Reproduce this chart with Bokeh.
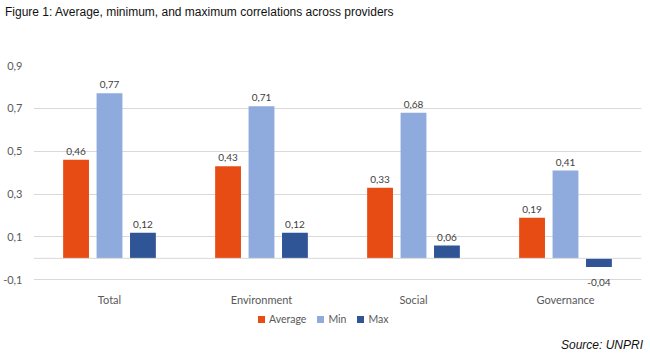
from bokeh.plotting import figure
from bokeh.models import (ColumnDataSource, FixedTicker, CustomJSTickFormatter, Span,
                          Range1d, FactorRange, Div)
from bokeh.layouts import column
from bokeh.transform import dodge
from bokeh.core.properties import value
from bokeh.embed import file_html
from bokeh.resources import INLINE

categories = ["Total", "Environment", "Social", "Governance"]
average = [0.46, 0.43, 0.33, 0.19]
minimum = [0.77, 0.71, 0.68, 0.41]
maximum = [0.12, 0.12, 0.06, -0.04]
series_names = ["Average", "Min", "Max"]
colors = ["#E84C15", "#8FAADC", "#2F5597"]
y_ticks = [-0.1, 0.1, 0.3, 0.5, 0.7, 0.9]

FONT = "Lato"
W = 650
TITLE_H, FIG_H, LEG_H, SRC_H = 25, 285, 20, 25
LEFT, RIGHT, TOP, BOTTOM = 30, 9, 40, 20

p = figure(width=W, height=FIG_H, output_backend="svg", toolbar_location=None,
           x_range=FactorRange(*categories, range_padding=0), y_range=Range1d(-0.15, 0.9),
           min_border_left=LEFT, min_border_right=RIGHT, min_border_top=TOP, min_border_bottom=BOTTOM)
p.outline_line_color = None
p.background_fill_color = "white"
p.border_fill_color = "white"
p.xgrid.grid_line_color = None
p.ygrid.grid_line_color = "#D9D9D9"
p.ygrid.grid_line_width = 1

p.yaxis.ticker = FixedTicker(ticks=y_ticks)
p.yaxis.formatter = CustomJSTickFormatter(code="return tick.toFixed(1).replace('.', ',');")
p.yaxis.axis_line_color = None
p.yaxis.major_tick_line_color = None
p.yaxis.minor_tick_line_color = None
p.yaxis.major_label_text_font = FONT
p.yaxis.major_label_text_font_size = "11px"
p.yaxis.major_label_text_color = "#595959"
p.yaxis.major_label_standoff = 5

p.xaxis.axis_line_color = None
p.xaxis.major_tick_line_color = None
p.xaxis.major_label_text_font = FONT
p.xaxis.major_label_text_font_size = "11px"
p.xaxis.major_label_text_color = "#595959"
p.xaxis.major_label_standoff = -4

p.add_layout(Span(location=0, dimension="width", line_color="#D9D9D9", line_width=1))

offsets = [-0.22, 0.0, 0.22]
series = [average, minimum, maximum]
for name, vals, col, off in zip(series_names, series, colors, offsets):
    labels = [f"{v:.2f}".replace(".", ",") for v in vals]
    src = ColumnDataSource(dict(cat=categories, val=vals))
    p.vbar(x=dodge("cat", off, range=p.x_range), top="val", bottom=0, width=0.17,
           source=src, fill_color=col, line_color=None)
    pos = ColumnDataSource(dict(cat=[c for c, v in zip(categories, vals) if v >= 0],
                                val=[v for v in vals if v >= 0],
                                lab=[l for l, v in zip(labels, vals) if v >= 0]))
    neg = ColumnDataSource(dict(cat=[c for c, v in zip(categories, vals) if v < 0],
                                val=[v for v in vals if v < 0],
                                lab=[l for l, v in zip(labels, vals) if v < 0]))
    p.text(x=dodge("cat", off, range=p.x_range), y="val", text="lab", source=pos,
           text_font=value(FONT), text_font_size="10px", text_color="#404040",
           text_align="center", text_baseline="bottom", y_offset=-5)
    p.text(x=dodge("cat", off, range=p.x_range), y="val", text="lab", source=neg,
           text_font=value(FONT), text_font_size="10px", text_color="#404040",
           text_align="center", text_baseline="top", y_offset=12)

legend_html = "".join(
    f'<span style="display:inline-block;width:7px;height:7px;background:{c};'
    f'margin-right:4px;vertical-align:middle"></span>'
    f'<span style="vertical-align:middle;margin-right:11px">{n}</span>'
    for n, c in zip(series_names, colors))
legend_div = Div(text=legend_html, width=W, height=LEG_H, margin=0,
                 styles={"font-family": FONT, "font-size": "10.5px", "color": "#595959",
                         "padding-left": "258px", "padding-top": "1px", "line-height": "14px",
                         "white-space": "nowrap", "box-sizing": "border-box"})

title_div = Div(text="Figure 1: Average, minimum, and maximum correlations across providers",
                width=W, height=TITLE_H, margin=0,
                styles={"font-family": "Liberation Sans", "font-size": "12px", "color": "#111111",
                        "padding-left": "5px", "padding-top": "5px", "line-height": "14px",
                        "white-space": "nowrap"})
src_div = Div(text="<i>Source: UNPRI</i>", width=W, height=SRC_H, margin=0,
              styles={"font-family": "Liberation Sans", "font-size": "12px", "color": "#111111",
                      "text-align": "right", "padding-right": "7px", "line-height": "14px",
                      "padding-top": "8px", "box-sizing": "border-box", "width": "650px"})

layout = column(title_div, p, legend_div, src_div, spacing=0)
open("out.html", "w").write(file_html(layout, INLINE))
